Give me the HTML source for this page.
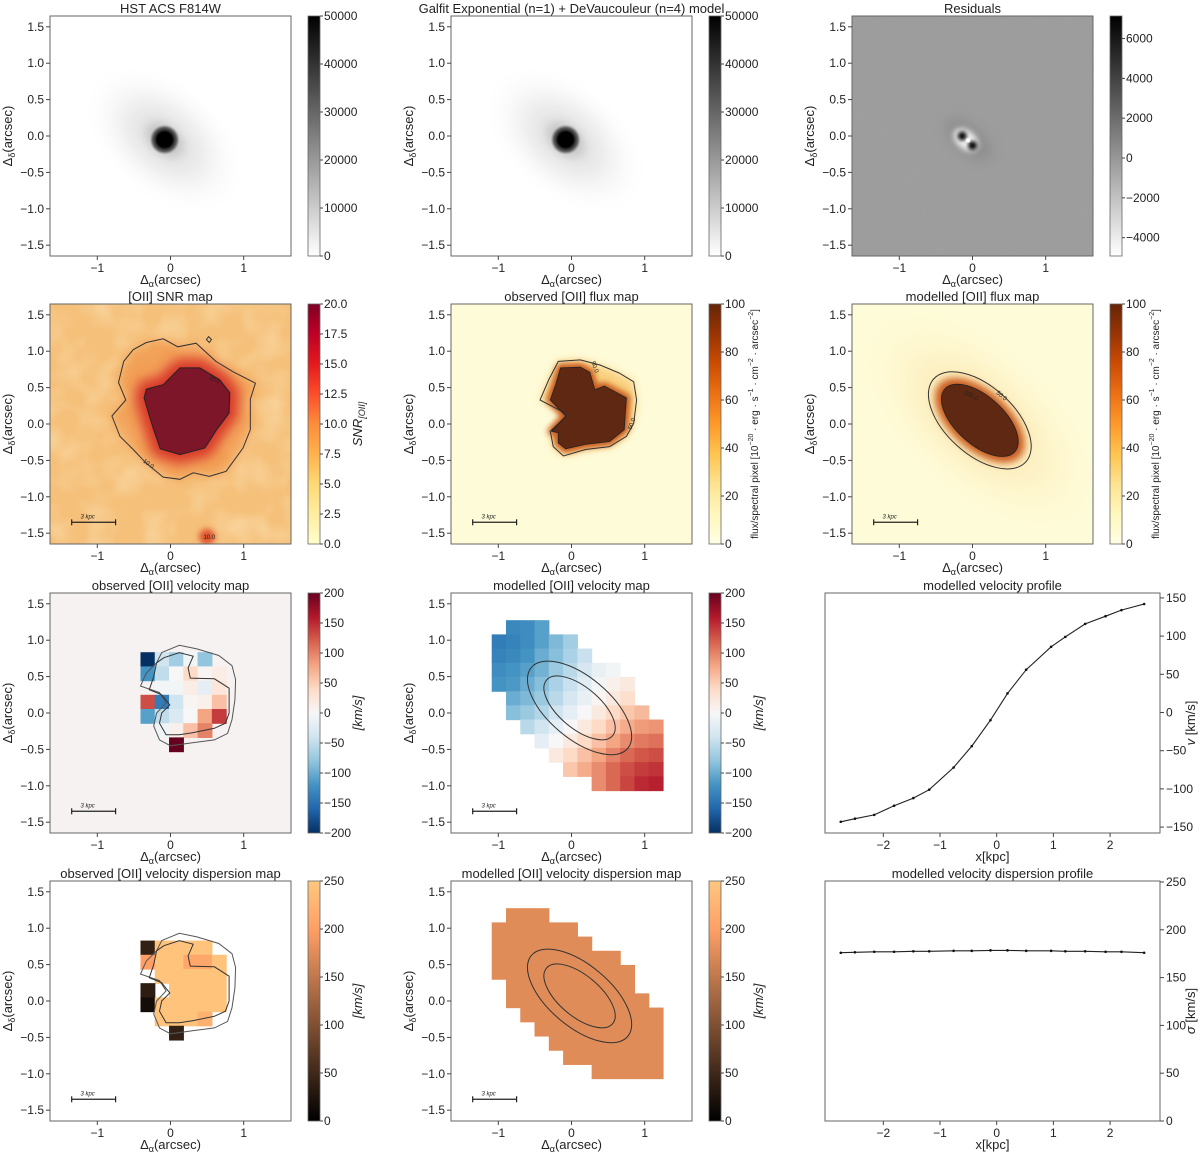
<!DOCTYPE html>
<html><head><meta charset="utf-8"><title>Galaxy kinematics figure</title>
<style>
html,body{margin:0;padding:0;background:#fff;}
svg{display:block;font-family:"Liberation Sans","DejaVu Sans",sans-serif;}
</style></head>
<body>
<svg id="fig" xmlns="http://www.w3.org/2000/svg" width="1200" height="1154" viewBox="0 0 1200 1154">
<defs>
  <linearGradient id="cb-gray" x1="0" y1="1" x2="0" y2="0"><stop offset="0" stop-color="#fff"/><stop offset="1" stop-color="#000"/></linearGradient>
  <linearGradient id="cb-ylorrd" x1="0" y1="1" x2="0" y2="0">
    <stop offset="0" stop-color="#ffffcc"/><stop offset="0.125" stop-color="#ffeda0"/><stop offset="0.25" stop-color="#fed976"/><stop offset="0.375" stop-color="#feb24c"/><stop offset="0.5" stop-color="#fd8d3c"/><stop offset="0.625" stop-color="#fc4e2a"/><stop offset="0.75" stop-color="#e31a1c"/><stop offset="0.875" stop-color="#bd0026"/><stop offset="1" stop-color="#800026"/></linearGradient>
  <linearGradient id="cb-ylorbr" x1="0" y1="1" x2="0" y2="0">
    <stop offset="0" stop-color="#ffffe5"/><stop offset="0.125" stop-color="#fff7bc"/><stop offset="0.25" stop-color="#fee391"/><stop offset="0.375" stop-color="#fec44f"/><stop offset="0.5" stop-color="#fe9929"/><stop offset="0.625" stop-color="#ec7014"/><stop offset="0.75" stop-color="#cc4c02"/><stop offset="0.875" stop-color="#993404"/><stop offset="1" stop-color="#662506"/></linearGradient>
  <linearGradient id="cb-rdbu" x1="0" y1="1" x2="0" y2="0">
    <stop offset="0" stop-color="#053061"/><stop offset="0.1" stop-color="#2166ac"/><stop offset="0.2" stop-color="#4393c3"/><stop offset="0.3" stop-color="#92c5de"/><stop offset="0.4" stop-color="#d1e5f0"/><stop offset="0.5" stop-color="#f7f7f7"/><stop offset="0.6" stop-color="#fddbc7"/><stop offset="0.7" stop-color="#f4a582"/><stop offset="0.8" stop-color="#d6604d"/><stop offset="0.9" stop-color="#b2182b"/><stop offset="1" stop-color="#67001f"/></linearGradient>
  <linearGradient id="cb-copper" x1="0" y1="1" x2="0" y2="0"><stop offset="0" stop-color="#000"/><stop offset="0.8" stop-color="#ffa066"/><stop offset="1" stop-color="#ffc77f"/></linearGradient>
  <linearGradient id="cb-resid" x1="0" y1="1" x2="0" y2="0"><stop offset="0" stop-color="#fff"/><stop offset="1" stop-color="#000"/></linearGradient>
  <radialGradient id="halo"><stop offset="0" stop-color="#888" stop-opacity="0.9"/><stop offset="0.3" stop-color="#bbb" stop-opacity="0.6"/><stop offset="0.65" stop-color="#e4e4e4" stop-opacity="0.4"/><stop offset="1" stop-color="#fff" stop-opacity="0"/></radialGradient>
  <radialGradient id="core"><stop offset="0" stop-color="#000"/><stop offset="0.5" stop-color="#000"/><stop offset="0.8" stop-color="#333" stop-opacity="0.7"/><stop offset="1" stop-color="#666" stop-opacity="0"/></radialGradient>
  <radialGradient id="fluxhalo"><stop offset="0" stop-color="#e8913a" stop-opacity="1"/><stop offset="0.45" stop-color="#f9c570" stop-opacity="0.6"/><stop offset="0.75" stop-color="#fdeeb5" stop-opacity="0.4"/><stop offset="1" stop-color="#fefbd8" stop-opacity="0"/></radialGradient>
  <filter id="blur6" x="-50%" y="-50%" width="200%" height="200%"><feGaussianBlur stdDeviation="6"/></filter>
  <filter id="blur4" x="-50%" y="-50%" width="200%" height="200%"><feGaussianBlur stdDeviation="4"/></filter>
  <filter id="blur3" x="-50%" y="-50%" width="200%" height="200%"><feGaussianBlur stdDeviation="3"/></filter>
  <filter id="blur2" x="-50%" y="-50%" width="200%" height="200%"><feGaussianBlur stdDeviation="1.8"/></filter>
  <filter id="blotch" x="0" y="0" width="100%" height="100%">
    <feTurbulence type="fractalNoise" baseFrequency="0.035" numOctaves="2" seed="4"/>
    <feColorMatrix type="matrix" values="0 0 0 0 0.99  0 0 0 0 0.86  0 0 0 0 0.58  1.4 0 0 0 -0.55"/>
  </filter>
  <filter id="grain" x="0" y="0" width="100%" height="100%">
    <feTurbulence type="fractalNoise" baseFrequency="0.9" numOctaves="1" seed="2"/>
    <feColorMatrix type="matrix" values="0 0 0 0 0.5  0 0 0 0 0.5  0 0 0 0 0.5  0 0 0 0.4 0"/>
  </filter>
</defs>
</svg>
<script>
// ---------- data ----------
const profileX = [-2.75,-2.5,-2.16,-1.81,-1.47,-1.19,-0.76,-0.44,-0.11,0.19,0.52,0.96,1.21,1.56,1.92,2.2,2.6];
const profileVel = [-143,-139,-134,-122,-112,-101,-72,-44,-10,25,56,86,99,116,126,134,142];
const profileSigma = [176,176.5,177,177,177.5,177.5,178,178,178.5,178.5,178,178,177.5,177.5,177,177,176];
const profileXTicks = [-2,-1,0,1,2];
const velTicks = [-150,-100,-50,0,50,100,150];
const sigmaTicks = [0,50,100,150,200,250];
const arcTicksY = [1.5,1.0,0.5,0.0,-0.5,-1.0,-1.5];
const arcTicksX = [-1,0,1];
const modVel = [
 [null,-130,-125,-110,null,null,null,null,null,null,null,null],
 [-140,-135,-125,-110,-90,-70,null,null,null,null,null,null],
 [-135,-130,-120,-100,-85,-65,-45,null,null,null,null,null],
 [-125,-120,-110,-95,-75,-55,-35,-15,-5,null,null,null],
 [-120,-115,-100,-85,-65,-45,-25,-5,10,20,null,null],
 [null,-100,-90,-75,-55,-35,-15,5,20,35,null,null],
 [null,-85,-75,-60,-40,-20,0,20,40,55,65,null],
 [null,null,-55,-40,-20,0,20,40,60,75,85,90],
 [null,null,null,-20,0,20,40,60,80,95,105,110],
 [null,null,null,null,20,40,60,80,100,115,125,130],
 [null,null,null,null,null,55,75,95,115,130,140,145],
 [null,null,null,null,null,null,null,95,115,135,150,155]
];
const modSigmaValue = 176;
const obsVel = [
 [-200,-40,-70,-5,-80,null],
 [-120,-50,0,40,5,15],
 [null,-5,-5,15,-20,25],
 [130,-140,-40,5,10,60],
 [-110,-50,-30,0,80,140],
 [null,-10,10,60,100,null],
 [null,null,200,null,null,null]
];
const obsSigma = [
 [40,245,245,245,245,null],
 [200,245,245,210,210,245],
 [null,245,245,245,245,245],
 [35,null,245,245,245,245],
 [15,245,245,245,245,245],
 [null,245,245,245,222,null],
 [null,null,40,null,null,null]
];

// ---------- geometry ----------
const NS = "http://www.w3.org/2000/svg";
const svg = document.getElementById('fig');
const L = [50,451,852], T = [16,304,593,881], PW = 241, PH = 240;
const SX = 73.2, SY = 72.8;
function X(c,a){return L[c]+120.5+a*SX;}
function Y(r,d){return T[r]+120-d*SY;}
function el(tag, attrs, parent){const e=document.createElementNS(NS,tag);for(const k in attrs)e.setAttribute(k,attrs[k]);(parent||svg).appendChild(e);return e;}
function txt(s, attrs, parent){const e=el('text',attrs,parent);e.textContent=s;return e;}
function poly(c,r,pts){return pts.map(p=>X(c,p[0]).toFixed(1)+','+Y(r,p[1]).toFixed(1)).join(' ');}

function hexToRgb(h){return [parseInt(h.substr(1,2),16),parseInt(h.substr(3,2),16),parseInt(h.substr(5,2),16)];}
const rdbu = ["#053061","#2166ac","#4393c3","#92c5de","#d1e5f0","#f7f7f7","#fddbc7","#f4a582","#d6604d","#b2182b","#67001f"].map(hexToRgb);
function rdbuColor(v){let t=(v+200)/400;t=Math.max(0,Math.min(1,t));const f=t*10;const i=Math.min(9,Math.floor(f));const u=f-i;const a=rdbu[i],b=rdbu[i+1];return 'rgb('+[0,1,2].map(k=>Math.round(a[k]+(b[k]-a[k])*u)).join(',')+')';}
function copperColor(v){const t=Math.max(0,Math.min(1,v/250));return 'rgb('+Math.round(255*Math.min(1,1.25*t))+','+Math.round(255*0.7812*t)+','+Math.round(255*0.4975*t)+')';}

let clipN=0;
function panelGroup(c,r,name){
  const id='clip'+(clipN++);
  const cp=el('clipPath',{id:id});
  el('rect',{x:L[c],y:T[r],width:PW,height:PH},cp);
  const g=el('g',{'clip-path':'url(#'+id+')'});
  
  
  return g;
}
function frame(c,r,title){
  const f=el('rect',{x:L[c],y:T[r],width:PW,height:PH,fill:'none',stroke:'#666','stroke-width':1});
  
  
  const t=txt(title,{x:L[c]+PW/2,y:T[r]-3,'font-size':13,'text-anchor':'middle',fill:'#222'});
  
  
  for(const v of arcTicksY){
    const y=Y(r,v);
    el('line',{x1:L[c]-4,x2:L[c],y1:y,y2:y,stroke:'#444'});
    const lab=txt((v<0?'\u2212':'')+Math.abs(v).toFixed(1),{x:L[c]-6,y:y+4,'font-size':12,'text-anchor':'end',fill:'#222'});
    
    
  }
  for(const v of arcTicksX){
    const x=X(c,v);
    el('line',{x1:x,x2:x,y1:T[r]+PH,y2:T[r]+PH+4,stroke:'#444'});
    const lab=txt((v<0?'\u2212':'')+Math.abs(v),{x:x,y:T[r]+PH+16,'font-size':12,'text-anchor':'middle',fill:'#222'});
    
    
  }
  const xl=el('text',{x:L[c]+PW/2,y:T[r]+PH+28,'font-size':13,'text-anchor':'middle',fill:'#222'});
  xl.innerHTML='\u0394<tspan font-size="9" dy="3">\u03b1</tspan><tspan dy="-3">(arcsec)</tspan>';
  
  
  const yx=L[c]-38, yy=T[r]+PH/2;
  const yl=el('text',{x:yx,y:yy,'font-size':13,'text-anchor':'middle',fill:'#222',transform:'rotate(-90 '+yx+' '+yy+')'});
  yl.innerHTML='\u0394<tspan font-size="9" dy="3">\u03b4</tspan><tspan dy="-3">(arcsec)</tspan>';
  
  
}
function colorbar(c,r,grad,vmin,vmax,ticks,fmt,label,labelSize){
  const x=L[c]+258, y0=T[r], h=PH;
  const b=el('rect',{x:x,y:y0,width:12,height:h,fill:'url(#'+grad+')',stroke:'#666','stroke-width':0.8});
  
  
  for(const v of ticks){
    const y=y0+h-(v-vmin)/(vmax-vmin)*h;
    el('line',{x1:x+12,x2:x+15,y1:y,y2:y,stroke:'#444'});
    const lab=txt(fmt(v),{x:x+16,y:y+4,'font-size':12,fill:'#222'});
    
    
  }
  if(label){
    const lx=x+(labelSize<12?49:54), ly=y0+h/2;
    const t=el('text',{x:lx,y:ly,'font-size':labelSize||13,'text-anchor':'middle',fill:'#222',transform:'rotate(-90 '+lx+' '+ly+')'});
    t.innerHTML=label;
    
    
  }
}
function scalebar(c,r){
  const g=el('g',{});
  
  
  const y=Y(r,-1.35), x1=X(c,-1.35), x2=X(c,-0.75);
  el('line',{x1:x1,x2:x2,y1:y,y2:y,stroke:'#222','stroke-width':1.3},g);
  el('line',{x1:x1,x2:x1,y1:y-3,y2:y+3,stroke:'#222','stroke-width':1.2},g);
  el('line',{x1:x2,x2:x2,y1:y-3,y2:y+3,stroke:'#222','stroke-width':1.2},g);
  txt('3 kpc',{x:(x1+x2)/2-6,y:y-4,'font-size':6,'font-style':'italic',fill:'#222','text-anchor':'middle'},g);
}
const fmtInt=v=>(v<0?'\u2212':'')+Math.abs(v);
const fmt1=v=>v.toFixed(1);

// ---------- Row 1 ----------
function galaxy(c,r,name){
  const g=panelGroup(c,r,name);
  el('rect',{x:L[c],y:T[r],width:PW,height:PH,fill:'#fff'},g);
  const cx=X(c,-0.08), cy=Y(r,-0.05);
  el('ellipse',{cx:cx,cy:cy,rx:95,ry:60,fill:'url(#halo)',transform:'rotate(40 '+cx+' '+cy+')',opacity:0.7},g);
  el('ellipse',{cx:cx,cy:cy,rx:40,ry:28,fill:'url(#halo)',transform:'rotate(40 '+cx+' '+cy+')'},g);
  el('circle',{cx:cx,cy:cy,r:15,fill:'url(#core)'},g);
}
galaxy(0,0,'hst-image');
galaxy(1,0,'galfit-model-image');
frame(0,0,'HST ACS F814W');
frame(1,0,'Galfit Exponential (n=1) + DeVaucouleur (n=4) model');
colorbar(0,0,'cb-gray',0,50000,[0,10000,20000,30000,40000,50000],fmtInt);
colorbar(1,0,'cb-gray',0,50000,[0,10000,20000,30000,40000,50000],fmtInt);
{
  const g=panelGroup(2,0,'residual-image');
  el('rect',{x:L[2],y:T[0],width:PW,height:PH,fill:'#9b9b9b'},g);
  el('rect',{x:L[2],y:T[0],width:PW,height:PH,filter:'url(#grain)',opacity:0.35},g);
  const cx=X(2,-0.05), cy=Y(0,-0.05);
  el('ellipse',{cx:cx,cy:cy,rx:28,ry:14,fill:'#808080',opacity:0.5,filter:'url(#blur6)',transform:'rotate(40 '+cx+' '+cy+')'},g);
  el('ellipse',{cx:cx-2,cy:cy+2,rx:14,ry:9,fill:'#f2f2f2',filter:'url(#blur3)',transform:'rotate(40 '+cx+' '+cy+')'},g);
  el('circle',{cx:X(2,-0.14),cy:Y(0,0.0),r:4.5,fill:'#111',filter:'url(#blur2)'},g);
  el('circle',{cx:X(2,0.0),cy:Y(0,-0.13),r:4.5,fill:'#111',filter:'url(#blur2)'},g);
  el('circle',{cx:X(2,-0.06),cy:Y(0,-0.06),r:2.2,fill:'#fff'},g);
}
frame(2,0,'Residuals');
colorbar(2,0,'cb-resid',-4920,7130,[-4000,-2000,0,2000,4000,6000],fmtInt);

// ---------- Row 2 ----------
{
  const g=panelGroup(0,1,'snr-map');
  el('rect',{x:L[0],y:T[1],width:PW,height:PH,fill:'#f5c07a'},g);
  el('rect',{x:L[0],y:T[1],width:PW,height:PH,filter:'url(#blotch)',opacity:0.6},g);
  const outer=[[-0.33,1.12],[-0.10,1.17],[0.10,1.06],[0.35,1.11],[0.62,0.86],[0.85,0.72],[1.16,0.56],[1.09,0.34],[1.09,-0.08],[0.99,-0.33],[0.76,-0.65],[0.53,-0.72],[0.31,-0.67],[0.13,-0.76],[-0.10,-0.73],[-0.33,-0.54],[-0.51,-0.35],[-0.69,-0.17],[-0.80,0.11],[-0.61,0.33],[-0.71,0.57],[-0.64,0.86],[-0.51,1.02]];
  const core=[[-0.33,0.48],[-0.10,0.54],[0.13,0.77],[0.40,0.77],[0.67,0.61],[0.81,0.43],[0.80,0.15],[0.63,-0.08],[0.47,-0.33],[0.13,-0.42],[-0.14,-0.34],[-0.23,-0.08],[-0.30,0.15],[-0.36,0.36]];
  el('polygon',{points:poly(0,1,outer),fill:'#f08a3e',opacity:0.6,filter:'url(#blur6)'},g);
  el('polygon',{points:poly(0,1,core),fill:'#d8372a',stroke:'#d8372a','stroke-width':18,'stroke-linejoin':'round',filter:'url(#blur6)'},g);
  el('polygon',{points:poly(0,1,core),fill:'#7d1628'},g);
  el('circle',{cx:X(0,0.5),cy:Y(1,-1.55),r:8,fill:'#e0542f',filter:'url(#blur3)'},g);
  const oc=el('polygon',{points:poly(0,1,outer),fill:'none',stroke:'#333','stroke-width':1},g);
  
  
  el('polygon',{points:poly(0,1,core),fill:'none',stroke:'#222','stroke-width':1},g);
  el('polygon',{points:poly(0,1,[[0.52,1.2],[0.56,1.16],[0.53,1.12],[0.49,1.16]]),fill:'none',stroke:'#333','stroke-width':1},g);
  txt('20.0',{x:X(0,0.52),y:Y(1,0.62),'font-size':6,fill:'#222',transform:'rotate(25 '+X(0,0.52)+' '+Y(1,0.62)+')'},g);
  txt('10.0',{x:X(0,-0.38),y:Y(1,-0.52),'font-size':6,fill:'#222',transform:'rotate(35 '+X(0,-0.38)+' '+Y(1,-0.52)+')'},g);
  txt('10.0',{x:X(0,0.45),y:Y(1,-1.58),'font-size':6,fill:'#222'},g);
  scalebar(0,1);
}
frame(0,1,'[OII] SNR map');
colorbar(0,1,'cb-ylorrd',0,20,[0,2.5,5,7.5,10,12.5,15,17.5,20],fmt1,'<tspan font-style="italic">SNR</tspan><tspan font-size="9" dy="3" font-style="italic">[OII]</tspan>');

const fluxLabel='flux/spectral pixel [10<tspan font-size="7" dy="-5">\u221220</tspan><tspan dy="5"> \u00b7 erg \u00b7 s</tspan><tspan font-size="7" dy="-5">\u22121</tspan><tspan dy="5"> \u00b7 cm</tspan><tspan font-size="7" dy="-5">\u22122</tspan><tspan dy="5"> \u00b7 arcsec</tspan><tspan font-size="7" dy="-5">\u22122</tspan><tspan dy="5">]</tspan>';
{
  const g=panelGroup(1,1,'observed-flux-map');
  el('rect',{x:L[1],y:T[1],width:PW,height:PH,fill:'#fefbd8'},g);
  const outer=[[-0.18,0.86],[0.12,0.88],[0.39,0.81],[0.65,0.70],[0.85,0.58],[0.89,0.33],[0.85,0.01],[0.75,-0.17],[0.52,-0.31],[0.19,-0.35],[-0.11,-0.44],[-0.25,-0.31],[-0.29,-0.10],[-0.05,0.13],[-0.43,0.33],[-0.31,0.61]];
  const core=[[-0.15,0.77],[0.12,0.78],[0.25,0.71],[0.32,0.47],[0.45,0.52],[0.75,0.36],[0.72,-0.08],[0.52,-0.24],[0.19,-0.28],[-0.08,-0.34],[-0.18,-0.26],[-0.18,-0.12],[-0.27,-0.10],[-0.08,0.11],[-0.29,0.33],[-0.21,0.56]];
  el('polygon',{points:poly(1,1,outer),fill:'#f8c66a',opacity:0.8,filter:'url(#blur4)'},g);
  el('polygon',{points:poly(1,1,core),fill:'#c8581c',stroke:'#c8581c','stroke-width':8,'stroke-linejoin':'round',filter:'url(#blur3)'},g);
  el('polygon',{points:poly(1,1,core),fill:'#5e2812'},g);
  el('polygon',{points:poly(1,1,outer),fill:'none',stroke:'#333','stroke-width':1},g);
  el('polygon',{points:poly(1,1,core),fill:'none',stroke:'#222','stroke-width':0.8},g);
  txt('50.0',{x:X(1,0.27),y:Y(1,0.85),'font-size':6,fill:'#222',transform:'rotate(70 '+X(1,0.27)+' '+Y(1,0.85)+')'},g);
  txt('50.0',{x:X(1,0.82),y:Y(1,-0.08),'font-size':6,fill:'#222',transform:'rotate(-70 '+X(1,0.82)+' '+Y(1,-0.08)+')'},g);
  scalebar(1,1);
}
frame(1,1,'observed [OII] flux map');
colorbar(1,1,'cb-ylorbr',0,100,[0,20,40,60,80,100],fmtInt,fluxLabel,10);
{
  const g=panelGroup(2,1,'modelled-flux-map');
  el('rect',{x:L[2],y:T[1],width:PW,height:PH,fill:'#fefbd8'},g);
  const cx=X(2,0.1), cy=Y(1,0.05);
  const rot='rotate(42 '+cx+' '+cy+')';
  el('ellipse',{cx:cx,cy:cy,rx:150,ry:80,fill:'url(#fluxhalo)',opacity:0.35,transform:rot},g);
  el('ellipse',{cx:cx,cy:cy,rx:80,ry:45,fill:'url(#fluxhalo)',opacity:0.8,transform:rot},g);
  el('ellipse',{cx:cx,cy:cy,rx:54,ry:29,fill:'#c8581c',filter:'url(#blur4)',transform:rot},g);
  el('ellipse',{cx:cx,cy:cy,rx:47,ry:24,fill:'#5e2812',transform:rot},g);
  el('ellipse',{cx:cx,cy:cy,rx:62,ry:34,fill:'none',stroke:'#333','stroke-width':1,transform:rot},g);
  el('ellipse',{cx:cx,cy:cy,rx:47,ry:24,fill:'none',stroke:'#222','stroke-width':0.8,transform:rot},g);
  txt('100.0',{x:X(2,-0.12),y:Y(1,0.42),'font-size':6,fill:'#222',transform:'rotate(30 '+X(2,-0.12)+' '+Y(1,0.42)+')'},g);
  txt('50.0',{x:X(2,0.32),y:Y(1,0.42),'font-size':6,fill:'#222',transform:'rotate(40 '+X(2,0.32)+' '+Y(1,0.42)+')'},g);
  scalebar(2,1);
}
frame(2,1,'modelled  [OII] flux map');
colorbar(2,1,'cb-ylorbr',0,100,[0,20,40,60,80,100],fmtInt,fluxLabel,10);

const obsOuter=[[-0.12,0.83],[0.12,0.93],[0.36,0.88],[0.66,0.79],[0.84,0.65],[0.89,0.46],[0.88,0.18],[0.84,-0.09],[0.78,-0.28],[0.60,-0.37],[0.30,-0.41],[0.0,-0.45],[-0.15,-0.37],[-0.23,-0.18],[-0.19,0.0],[-0.06,0.14],[-0.15,0.28],[-0.41,0.37],[-0.33,0.55],[-0.19,0.69]];
const obsInner=[[-0.09,0.76],[0.12,0.83],[0.31,0.78],[0.24,0.62],[0.27,0.48],[0.60,0.47],[0.80,0.34],[0.80,0.0],[0.75,-0.14],[0.60,-0.21],[0.30,-0.27],[0.12,-0.30],[-0.06,-0.30],[-0.15,-0.14],[-0.12,0.0],[-0.01,0.11],[-0.12,0.25],[-0.29,0.32],[-0.23,0.50],[-0.19,0.69]];
function obsContours(c,r,g){
  el('polygon',{points:poly(c,r,obsOuter),fill:'none',stroke:'#555','stroke-width':1},g);
  el('polygon',{points:poly(c,r,obsInner),fill:'none',stroke:'#333','stroke-width':1},g);
}
function modContours(c,r,g){
  const cx=X(c,0.11), cy=Y(r,0.07);
  const rot='rotate(40 '+cx+' '+cy+')';
  el('ellipse',{cx:cx,cy:cy,rx:0.86*SX,ry:0.42*SX,fill:'none',stroke:'#333','stroke-width':1,transform:rot},g);
  el('ellipse',{cx:cx,cy:cy,rx:0.59*SX,ry:0.28*SX,fill:'none',stroke:'#333','stroke-width':1,transform:rot},g);
}
const CELL=0.195;
function drawGrid(c,r,g,grid,x0,yTop,colorFn,name){
  grid.forEach((row,j)=>row.forEach((v,i)=>{
    if(v===null)return;
    const xa=x0+i*CELL, ya=yTop-j*CELL;
    const px=X(c,xa), py=Y(r,ya);
    const w=CELL*SX+0.6, h=CELL*SY+0.6;
    const rc=el('rect',{x:px.toFixed(2),y:py.toFixed(2),width:w.toFixed(2),height:h.toFixed(2),fill:colorFn(v)},g);
    
    
  }));
}

// ---------- Row 3 ----------
{
  const g=panelGroup(0,2,'observed-velocity-map');
  el('rect',{x:L[0],y:T[2],width:PW,height:PH,fill:'#f6f2f2'},g);
  drawGrid(0,2,g,obsVel,-0.41,0.835,rdbuColor,'velocity-pixel');
  obsContours(0,2,g);
  scalebar(0,2);
}
frame(0,2,'observed [OII] velocity map');
colorbar(0,2,'cb-rdbu',-200,200,[-200,-150,-100,-50,0,50,100,150,200],fmtInt,'<tspan font-style="italic">[km/s]</tspan>');
{
  const g=panelGroup(1,2,'modelled-velocity-map');
  el('rect',{x:L[1],y:T[2],width:PW,height:PH,fill:'#fff'},g);
  drawGrid(1,2,g,modVel,-1.09,1.275,rdbuColor,'velocity-pixel');
  modContours(1,2,g);
  scalebar(1,2);
}
frame(1,2,'modelled  [OII] velocity map');
colorbar(1,2,'cb-rdbu',-200,200,[-200,-150,-100,-50,0,50,100,150,200],fmtInt,'<tspan font-style="italic">[km/s]</tspan>');

// ---------- Profiles ----------
const PL=825, PR=1160;
function PX(v){return 996.7+v*56.7;}
function profileAxes(r,title,yTicks,PYf,name,yLabel){
  const f=el('rect',{x:PL,y:T[r],width:PR-PL,height:PH,fill:'none',stroke:'#666'});
  
  
  const t=txt(title,{x:(PL+PR)/2,y:T[r]-3,'font-size':13,'text-anchor':'middle',fill:'#222'});
  
  
  for(const v of profileXTicks){
    const x=PX(v);
    el('line',{x1:x,x2:x,y1:T[r]+PH,y2:T[r]+PH+4,stroke:'#444'});
    const lab=txt(fmtInt(v),{x:x,y:T[r]+PH+16,'font-size':12,'text-anchor':'middle',fill:'#222'});
    
    
  }
  for(const v of yTicks){
    const y=PYf(v);
    el('line',{x1:PR,x2:PR+4,y1:y,y2:y,stroke:'#444'});
    const lab=txt(fmtInt(v),{x:PR+6,y:y+4,'font-size':12,fill:'#222'});
    
    
  }
  const xl=txt('x[kpc]',{x:(PL+PR)/2,y:T[r]+PH+28,'font-size':13,'text-anchor':'middle',fill:'#222'});
  
  
  const lx=1195, ly=T[r]+PH/2+10;
  const yl=el('text',{x:lx,y:ly,'font-size':13,'text-anchor':'middle',fill:'#222',transform:'rotate(-90 '+lx+' '+ly+')'});
  yl.innerHTML=yLabel;
  
  
}
function PYv(v){return 712.5-v*0.764;}
function PYs(v){return 1121-v*0.956;}
profileAxes(2,'modelled  velocity profile',velTicks,PYv,'velocity-profile','<tspan font-style="italic">v</tspan> [km/s]');
profileAxes(3,'modelled  velocity dispersion profile',sigmaTicks,PYs,'dispersion-profile','<tspan font-style="italic">\u03c3</tspan> [km/s]');
{
  const l=el('polyline',{points:profileX.map((x,i)=>PX(x).toFixed(1)+','+PYv(profileVel[i]).toFixed(1)).join(' '),fill:'none',stroke:'#222','stroke-width':1.1});
  
  
  profileX.forEach((x,i)=>{
    const p=el('circle',{cx:PX(x),cy:PYv(profileVel[i]),r:1.3,fill:'#111'});
    
    
  });
  const l2=el('polyline',{points:profileX.map((x,i)=>PX(x).toFixed(1)+','+PYs(profileSigma[i]).toFixed(1)).join(' '),fill:'none',stroke:'#222','stroke-width':1.1});
  
  
  profileX.forEach((x,i)=>{
    const p=el('circle',{cx:PX(x),cy:PYs(profileSigma[i]),r:1.3,fill:'#111'});
    
    
  });
}

// ---------- Row 4 ----------
{
  const g=panelGroup(0,3,'observed-dispersion-map');
  el('rect',{x:L[0],y:T[3],width:PW,height:PH,fill:'#fff'},g);
  drawGrid(0,3,g,obsSigma,-0.41,0.83,copperColor,'dispersion-pixel');
  obsContours(0,3,g);
  scalebar(0,3);
}
frame(0,3,'observed [OII] velocity dispersion map');
colorbar(0,3,'cb-copper',0,250,[0,50,100,150,200,250],fmtInt,'<tspan font-style="italic">[km/s]</tspan>');
{
  const g=panelGroup(1,3,'modelled-dispersion-map');
  el('rect',{x:L[1],y:T[3],width:PW,height:PH,fill:'#fff'},g);
  drawGrid(1,3,g,modVel.map(row=>row.map(v=>v===null?null:modSigmaValue)),-1.09,1.275,copperColor,'dispersion-pixel');
  modContours(1,3,g);
  scalebar(1,3);
}
frame(1,3,'modelled  [OII] velocity dispersion map');
colorbar(1,3,'cb-copper',0,250,[0,50,100,150,200,250],fmtInt,'<tspan font-style="italic">[km/s]</tspan>');
</script>
</body></html>
